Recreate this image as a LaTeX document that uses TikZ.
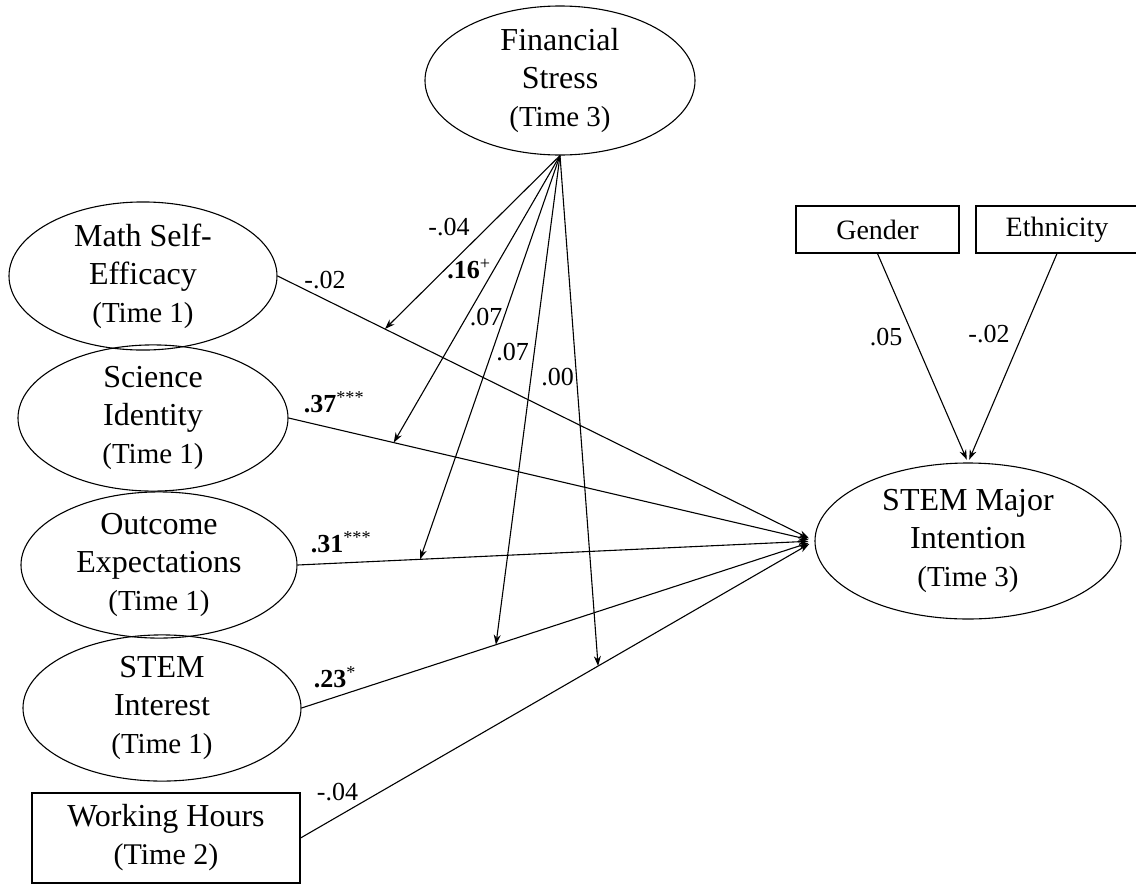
\documentclass[tikz,border=0pt]{standalone}
\usepackage{fontspec}
\setmainfont{Liberation Serif}
\usetikzlibrary{arrows.meta, shapes.geometric, positioning}
\newcommand*{\tlabel}[1]{{\fontsize{29}{35}\selectfont(Time #1)}}
\newcommand*{\sig}[2]{\textbf{#1}\textsuperscript{#2}}

\begin{document}
\begin{tikzpicture}[x=1pt,y=-1pt,on grid,line width=1.1pt,>={Stealth[length=10pt,width=7pt]},
      latent/.style={draw,ellipse,align=center,inner sep=0pt,minimum width=270pt,minimum height=134pt,font=\fontsize{32}{38}\selectfont},
      observed/.style={draw,rectangle,align=center,inner sep=0pt,font=\fontsize{32}{38}\selectfont},
      coef/.style={inner sep=0pt,font=\fontsize{26}{30}\selectfont}]
      \useasboundingbox (0,0) rectangle (1136,884);
      % latent variables and covariates
      \node[latent, minimum height=149pt] (fs) at (560,80.5) {Financial\\Stress\\\tlabel{3}};
      \node[latent, minimum width=268pt] (math) at (143,276) {Math Self-\\Efficacy\\\tlabel{1}};
      \node[latent] (sci) [below right=142pt and 10pt of math] {Science\\Identity\\\tlabel{1}};
      \node[latent, minimum width=276pt, minimum height=140pt] (outc) [below right=147pt and 6pt of sci] {Outcome\\Expectations\\\tlabel{1}};
      \node[latent, minimum width=278pt, minimum height=140pt] (intr) [below right=143pt and 3pt of outc] {STEM\\Interest\\\tlabel{1}};
      \node[observed, minimum width=268pt, minimum height=90pt] (work) [below right=130pt and 4pt of intr] {Working Hours\\{\fontsize{30}{36}\selectfont(Time 2)}};
      \node[observed, minimum width=163pt, minimum height=47pt, font=\fontsize{28}{32}\selectfont] (gender) at (877.5,229.5) {Gender};
      \node[observed, minimum width=162pt, minimum height=47pt, font=\fontsize{28}{32}\selectfont] (ethn) [right=179.5pt of gender] {Ethnicity};
      \node[latent, minimum width=306pt, minimum height=156pt] (major) [below right=311.5pt and 90.5pt of gender] {STEM Major\\Intention\\\tlabel{3}};
      % direct paths
      \draw[->, shorten >=6pt] (math.east) -- coordinate[pos=0.2] (modmath) (major.west);
      \draw[->, shorten >=6pt] (sci.east) -- coordinate[pos=0.2] (modsci) (major.west);
      \draw[->, shorten >=6pt] (outc.east) -- coordinate[pos=0.237] (modout) (major.west);
      \draw[->, shorten >=6pt] (intr.east) -- coordinate[pos=0.379] (modint) (major.west);
      \draw[->, shorten >=6pt] (work.east) -- coordinate[pos=0.579] (modwork) (major.west);
      \draw[->, shorten >=3pt] (gender.south) -- (major.north);
      \draw[->, shorten >=3pt] (ethn.south) -- (major.north);
      % moderation by financial stress
      \foreach \m in {modmath, modsci, modout, modint, modwork}
        \draw[->] (fs.south) -- (\m);
      % coefficients
      \node[coef] (cmath) at (325,280) {-.02};
      \node[coef] (csci) at (334,402) {\sig{.37}{***}};
      \node[coef] (cout) at (341,542) {\sig{.31}{***}};
      \node[coef] (cint) at (335,677) {\sig{.23}{*}};
      \node[coef] (cwork) at (337.5,792) {-.04};
      \node[coef] (fmath) at (449,227) {-.04};
      \node[coef] (fsci) at (469,269) {\sig{.16}{+}};
      \node[coef] (fout) at (486,317) {.07};
      \node[coef] (fint) at (512.5,352) {.07};
      \node[coef] (fwork) at (557.5,377) {.00};
      \node[coef] (cgender) at (886,337) {.05};
      \node[coef] (cethn) at (989,334) {-.02};
    \end{tikzpicture}
\end{document}
